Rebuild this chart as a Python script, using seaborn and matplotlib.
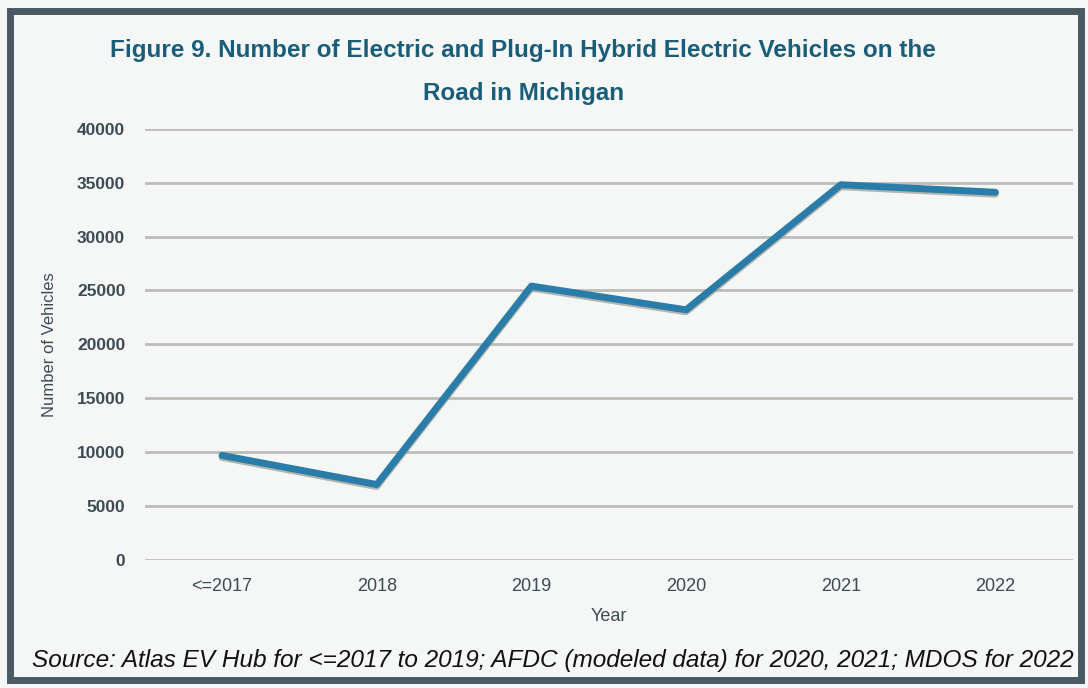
import matplotlib.pyplot as plt
import seaborn as sns
import pandas as pd
from matplotlib.patches import Rectangle
from matplotlib.transforms import ScaledTranslation

# data
years = ['<=2017', '2018', '2019', '2020', '2021', '2022']
vehicles = [9700, 7000, 25400, 23200, 34800, 34100]
y_ticks = [0, 5000, 10000, 15000, 20000, 25000, 30000, 35000, 40000]

df = pd.DataFrame({'Year': years, 'Number of Vehicles': vehicles})

sns.set_style('white')
plt.rcParams['font.family'] = ['Liberation Sans', 'DejaVu Sans']

bg = '#f4f7f5'
text_col = '#3c4a55'

fig = plt.figure(figsize=(10.88, 6.88), dpi=100, facecolor=bg)
ax = fig.add_axes([0.133, 0.186, 0.853, 0.627])
ax.set_facecolor(bg)

# soft grey shadow under the line, like the original
shadow = ax.transData + ScaledTranslation(0, -2 / 100, fig.dpi_scale_trans)
sns.lineplot(data=df, x='Year', y='Number of Vehicles', sort=False, ax=ax,
             color='#9a9a92', linewidth=5, alpha=0.7, transform=shadow)
sns.lineplot(data=df, x='Year', y='Number of Vehicles', sort=False, ax=ax,
             color='#2a7da8', linewidth=5)

ax.set_ylim(0, 40000)
ax.set_xlim(-0.5, len(years) - 0.5)
ax.set_yticks(y_ticks)
ax.yaxis.grid(True, color='#bdbdb8', linewidth=2)
ax.set_axisbelow(True)
for s in ax.spines.values():
    s.set_visible(False)
ax.tick_params(axis='y', length=0, labelsize=12.5, labelcolor=text_col, pad=14)
ax.tick_params(axis='x', length=0, labelsize=13, labelcolor=text_col, pad=13)
for lbl in ax.get_yticklabels():
    lbl.set_fontweight('bold')
ax.set_xlabel('Year', fontsize=13, color=text_col, labelpad=9)
ax.set_ylabel('Number of Vehicles', fontsize=12, color=text_col, labelpad=14)

fig.text(0.481, 0.927, 'Figure 9. Number of Electric and Plug-In Hybrid Electric Vehicles on the',
         ha='center', va='center', fontsize=17.5, fontweight='bold', color='#1a5d78')
fig.text(0.481, 0.864, 'Road in Michigan',
         ha='center', va='center', fontsize=17.5, fontweight='bold', color='#1a5d78')
fig.text(0.508, 0.04, 'Source: Atlas EV Hub for <=2017 to 2019; AFDC (modeled data) for 2020, 2021; MDOS for 2022',
         ha='center', va='center', fontsize=17.6, style='italic', color='#111111')

fig.patches.append(Rectangle((0.009, 0.012), 0.985, 0.972, transform=fig.transFigure,
                             fill=False, edgecolor='#4b5962', linewidth=5))

fig.savefig('out.png', dpi=100, facecolor=bg)
